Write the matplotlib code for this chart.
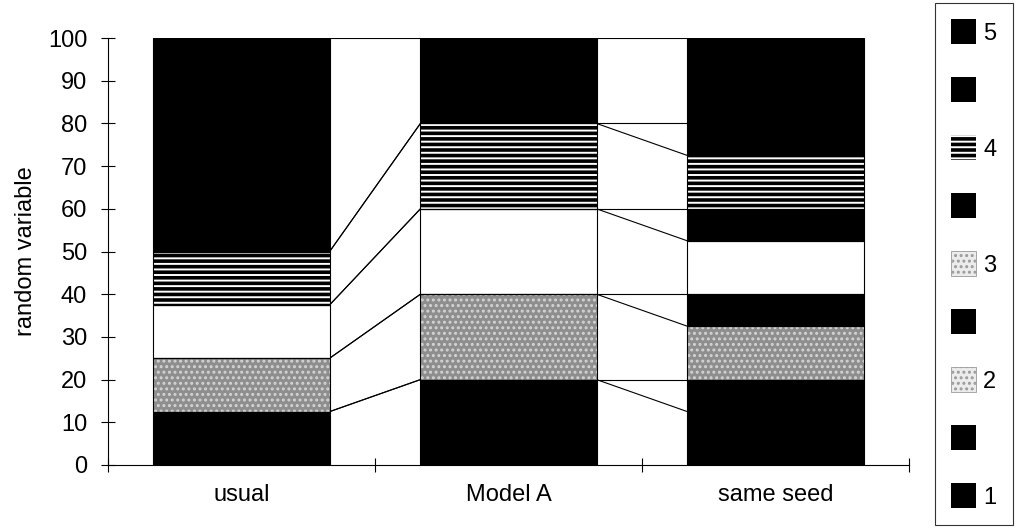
import numpy as np
import matplotlib.pyplot as plt
from matplotlib.patches import Patch

plt.rcParams['font.family'] = ['Liberation Sans', 'DejaVu Sans']
plt.rcParams['hatch.linewidth'] = 1.4

categories = ['usual', 'Model A', 'same seed']
series_names = ['1', '', '2', '', '3', '', '4', '', '5']
s1 = [12.5, 20, 12.5]
g1 = [0, 0, 7.5]
s2 = [12.5, 20, 12.5]
g2 = [0, 0, 7.5]
s3 = [12.5, 20, 12.5]
g3 = [0, 0, 7.5]
s4 = [12.5, 20, 12.5]
g4 = [0, 0, 7.5]
s5 = [50, 20, 20]
yticks = np.arange(0, 101, 10)

series = [s1, g1, s2, g2, s3, g3, s4, g4, s5]
# (face, hatch, hatch colour) per series
styles = [('black', None, 'black'),
          ('black', None, 'black'),
          ('#8e8e8e', '...', '#d4d4d4'),
          ('black', None, 'black'),
          ('white', None, 'white'),
          ('black', None, 'black'),
          ('black', '---', 'white'),
          ('black', None, 'black'),
          ('black', None, 'black')]

fs = 17
fig = plt.figure(figsize=(10.16, 5.29), dpi=100)
ax = fig.add_axes([0.1063, 0.121, 0.7884, 0.807])

x = np.arange(len(categories))
w = 0.66
bottom = np.zeros(len(categories))
handles = []
tops = []
for vals, (fc, hatch, hc) in zip(series, styles):
    vals = np.asarray(vals, dtype=float)
    b = ax.bar(x, vals, w, bottom=bottom, color=fc, hatch=hatch,
               edgecolor=hc, linewidth=0, zorder=2)
    ax.bar(x, vals, w, bottom=bottom, fill=False, edgecolor='black',
           linewidth=0.8, zorder=3)
    handles.append(b)
    bottom = bottom + vals
    tops.append(bottom.copy())

# series lines between neighbouring bars
for t in tops:
    for i in range(len(categories) - 1):
        ax.plot([x[i] + w / 2, x[i + 1] - w / 2], [t[i], t[i + 1]],
                color='black', linewidth=0.8, zorder=1)

ax.set_xlim(-0.5, len(categories) - 0.5)
ax.set_ylim(0, 100)
ax.set_yticks(yticks)
ax.set_xticks(x)
ax.set_xticklabels(categories)
ax.set_xticks(np.arange(len(categories) + 1) - 0.5, minor=True)
ax.tick_params(axis='x', which='major', length=0, pad=14, labelsize=fs)
ax.tick_params(axis='x', which='minor', direction='inout', length=10, width=0.8)
ax.tick_params(axis='y', direction='inout', length=10, width=0.8, pad=10, labelsize=fs)
ax.spines['top'].set_visible(False)
ax.spines['right'].set_visible(False)
ax.spines['left'].set_linewidth(0.8)
ax.spines['bottom'].set_linewidth(0.8)
ax.set_ylabel('random variable', fontsize=fs, labelpad=8)

# legend swatches for 2 and 3 are a pale speckle in the original
speckle = Patch(facecolor='#ececec', hatch='...', edgecolor='#9a9a9a', linewidth=0.6)
leg_handles = list(handles)
leg_handles[2] = speckle
leg_handles[4] = speckle

leg = fig.legend(leg_handles[::-1], series_names[::-1], loc='upper right',
                 bbox_to_anchor=(0.997, 0.995), fontsize=fs,
                 handlelength=1.06, handleheight=1.25, labelspacing=1.38,
                 handletextpad=0.3, borderpad=0.7, borderaxespad=0,
                 frameon=True, fancybox=False, edgecolor='black')
leg.get_frame().set_linewidth(0.8)

fig.savefig('out.png', dpi=100)
